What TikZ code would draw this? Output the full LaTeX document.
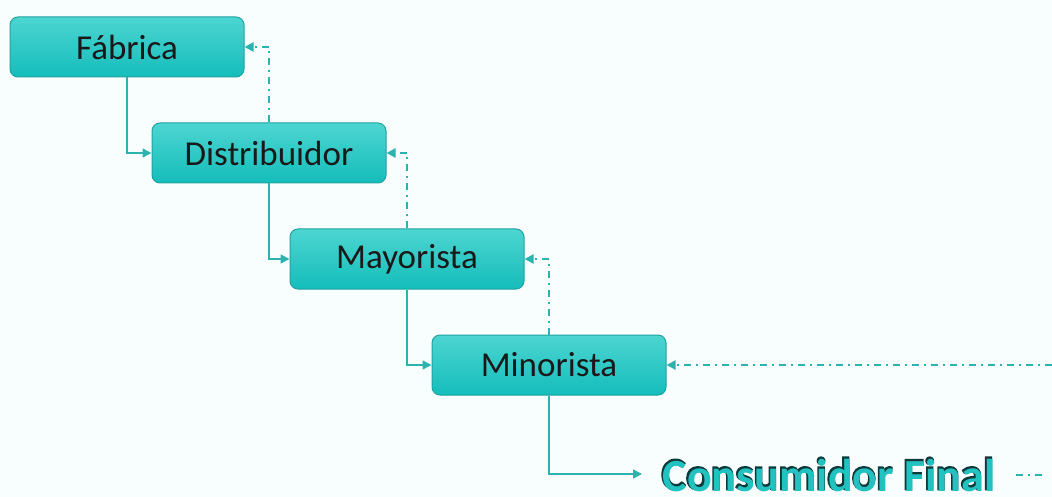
\documentclass[tikz,border=0pt]{standalone}
\usepackage{fontspec}
\setmainfont{Carlito}
\newfontfamily\cfshadowfont[FakeBold=3.5]{Carlito Bold}
\newfontfamily\cfmainfont{Carlito Bold}
\usetikzlibrary{arrows.meta}
\definecolor{bg}{HTML}{F8FDFD}
\definecolor{boxtop}{HTML}{4DD5D1}
\definecolor{boxbot}{HTML}{14BDBB}
\definecolor{boxedge}{HTML}{1FA3A1}
\definecolor{lnc}{HTML}{2DB3AF}
\definecolor{cftxt}{HTML}{22C2C0}
\definecolor{cfdark}{HTML}{0C3A3A}
\tikzset{
  stage/.style={draw=boxedge, line width=1pt, rounded corners=8pt, top color=boxtop, bottom color=boxbot,
    minimum width=234pt, minimum height=60pt, inner sep=0pt, font=\fontsize{35}{40}\selectfont, text=black!90},
  flow/.style={draw=lnc, line width=1.5pt, -{Triangle[length=9pt,width=9pt]}},
  back/.style={draw=lnc, line width=2pt, dash pattern=on 7pt off 5pt on 2pt off 5pt, -{Triangle[length=9pt,width=9pt]}},
  tail/.style={draw=lnc, line width=2pt, dash pattern=on 7pt off 5pt on 2pt off 5pt},
  cfbase/.style={inner sep=0pt, anchor=base west, text depth=0pt}
}
\begin{document}
\begin{tikzpicture}[x=1pt,y=-1pt]
\useasboundingbox[fill=bg] (0,0) rectangle (1052,497);
\node[stage] (fab) at (127,47) {Fábrica};
\node[stage] (dis) at (269,153) {Distribuidor};
\node[stage] (may) at (407,259) {Mayorista};
\node[stage] (min) at (549,365) {Minorista};
\coordinate (cfin) at (642,474);
\coordinate (rt) at (1052,365);
\coordinate (ta) at (1016,475);
\coordinate (tb) at (1046,475);
\node[cfbase, text=cfdark, font=\fontsize{46}{50}\cfshadowfont] (cfs) at (661,489.5) {Consumidor Final};
\node[cfbase, text=cftxt, font=\fontsize{46}{50}\cfmainfont] (cf) at (662.5,491) {Consumidor Final};
\draw[flow] (fab.south) |- (dis.west);
\draw[flow] (dis.south) |- (may.west);
\draw[flow] (may.south) |- (min.west);
\draw[flow] (min.south) |- (cfin);
\draw[back] (dis.north) |- (fab.east);
\draw[back] (may.north) |- (dis.east);
\draw[back] (min.north) |- (may.east);
\draw[back] (rt) -- (min.east);
\draw[tail] (ta) -- (tb);
\end{tikzpicture}
\end{document}
